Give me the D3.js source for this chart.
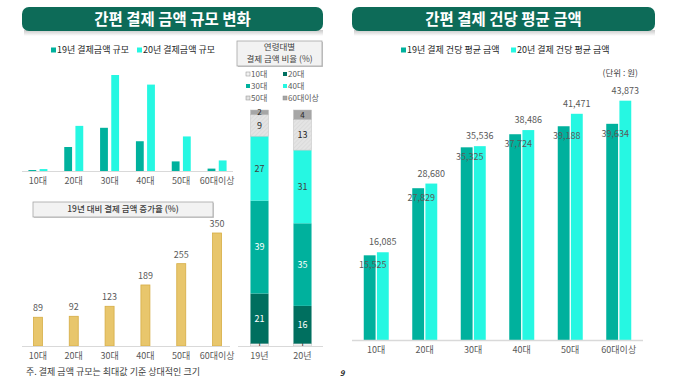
<!DOCTYPE html>
<html><head><meta charset="utf-8">
<script src="https://cdn.jsdelivr.net/npm/d3@7"></script>
<style>html,body{margin:0;padding:0;background:#fff;}svg{display:block;font-family:"Noto Sans CJK KR","Noto Sans",sans-serif;}</style>
</head><body>
<svg id="c" width="680" height="380"></svg>
<script>
// ---- data ----
const ageCats = ["10대","20대","30대","40대","50대","60대이상"];
const sizeSeries = ["19년 결제금액 규모","20년 결제금액 규모"];
const size19 = [1, 25, 45, 31, 10, 2.5];      // relative (max = 100)
const size20 = [2, 47, 100, 90, 36, 11];
const growthRate = [89, 92, 123, 189, 255, 350];
const shareYears = ["19년","20년"];
const shareCats = ["10대","20대","30대","40대","50대","60대이상"];
const share19 = [1, 21, 39, 27, 9, 2];
const share20 = [1, 16, 35, 31, 13, 4];
const avgSeries = ["19년 결제 건당 평균 금액","20년 결제 건당 평균 금액"];
const avg19 = [15525, 27829, 35325, 37724, 39188, 39634];
const avg20 = [16085, 28680, 35536, 38486, 41471, 43873];

const C19 = "#00b19d", C20 = "#26f7e2", GOLD = "#e8c66c", BANNER = "#0d6b58";
const TXT = "#595959";
const svg = d3.select("#c");
const defs = svg.append("defs");
const sh = defs.append("linearGradient").attr("id","sh").attr("x1",0).attr("x2",0).attr("y1",0).attr("y2",1);
sh.append("stop").attr("offset",0).attr("stop-color","#c8c8c8");
sh.append("stop").attr("offset",1).attr("stop-color","#ffffff");
const pat = defs.append("pattern").attr("id","hatch").attr("width",3).attr("height",3)
  .attr("patternUnits","userSpaceOnUse").attr("patternTransform","rotate(45)");
pat.append("rect").attr("width",3).attr("height",3).attr("fill","#e4e4e4");
pat.append("line").attr("x1",0).attr("y1",0).attr("x2",0).attr("y2",3).attr("stroke","#d2d2d2").attr("stroke-width",1);

// banners
function banner(x0, x1, title){
  svg.append("rect").attr("x",x0+2).attr("y",30).attr("width",x1-x0-2).attr("height",6).attr("fill","url(#sh)");
  svg.append("rect").attr("x",x0).attr("y",7).attr("width",x1-x0).attr("height",24).attr("rx",7).attr("fill",BANNER);
  svg.append("text").attr("x",(x0+x1)/2).attr("y",19).attr("dy","0.36em").attr("text-anchor","middle")
    .attr("fill","#fff").attr("font-size",15.5).attr("font-weight",700).text(title);
}
banner(22, 323, "간편 결제 금액 규모 변화");
banner(352, 655, "간편 결제 건당 평균 금액");

function hline(x0,x1,y,w){svg.append("line").attr("x1",x0).attr("x2",x1).attr("y1",y).attr("y2",y).attr("stroke","#d9d9d9").attr("stroke-width",w||1);}

// ---- top-left grouped bars ----
const xL = d3.scaleBand().domain(ageCats).range([20,235]);
const xL1 = d3.scaleBand().domain(sizeSeries).range([0,19]).paddingInner(0.3);
const yL = d3.scaleLinear().domain([0,100]).range([171,75]);
const sizeData = ageCats.map((c,i)=>({c, v:[size19[i], size20[i]]}));
const gL = svg.append("g");
sizeData.forEach(d=>{
  const gx = xL(d.c) + xL.bandwidth()/2 - 9.5;
  sizeSeries.forEach((s,j)=>{
    gL.append("rect").attr("x",gx+xL1(s)).attr("width",xL1.bandwidth())
      .attr("y",yL(d.v[j])).attr("height",yL(0)-yL(d.v[j])).attr("fill",j?C20:C19);
  });
});
hline(22,233,171.5);
gL.selectAll("text.cat").data(ageCats).join("text").attr("x",d=>xL(d)+xL.bandwidth()/2).attr("y",181)
  .attr("dy","0.35em").attr("text-anchor","middle").attr("font-size",9).attr("fill",TXT).text(d=>d);
// legend
[[51,0],[137,1]].forEach(([x,j])=>{
  svg.append("rect").attr("x",x).attr("y",47.5).attr("width",5).attr("height",5).attr("fill",j?C20:C19);
  svg.append("text").attr("x",x+6).attr("y",50).attr("dy","0.35em").attr("font-size",9).attr("fill","#262626").text(sizeSeries[j]);
});

// ---- bottom-left growth bars ----
svg.append("rect").attr("x",34).attr("y",203).attr("width",180).attr("height",15).attr("fill","#d0d0d0");
svg.append("rect").attr("x",33).attr("y",202).attr("width",180).attr("height",15).attr("fill","#f2f2f2").attr("stroke","#a6a6a6").attr("stroke-width",0.8);
svg.append("text").attr("x",123).attr("y",209.5).attr("dy","0.35em").attr("text-anchor","middle").attr("font-size",8.5)
  .attr("font-weight",500).attr("fill","#404040").text("19년 대비 결제 금액 증가율 (%)");
const yG = d3.scaleLinear().domain([0,350]).range([346,233]);
const gG = svg.append("g");
gG.selectAll("rect").data(growthRate).join("rect")
  .attr("x",(d,i)=>xL(ageCats[i])+xL.bandwidth()/2-4.5).attr("width",9)
  .attr("y",d=>yG(d)).attr("height",d=>yG(0)-yG(d)).attr("fill",GOLD).attr("stroke","#d6ad45").attr("stroke-width",0.8);
gG.selectAll("text.v").data(growthRate).join("text")
  .attr("x",(d,i)=>xL(ageCats[i])+xL.bandwidth()/2).attr("y",d=>yG(d)-9).attr("dy","0.35em")
  .attr("text-anchor","middle").attr("font-size",9).attr("fill",TXT).text(d=>d);
hline(22,230,346.5);
gG.selectAll("text.cat").data(ageCats).join("text").attr("x",d=>xL(d)+xL.bandwidth()/2).attr("y",355.5)
  .attr("dy","0.35em").attr("text-anchor","middle").attr("font-size",9).attr("fill",TXT).text(d=>d);
svg.append("text").attr("x",26).attr("y",372).attr("dy","0.35em").attr("font-size",9).attr("fill","#404040")
  .text("주. 결제 금액 규모는 최대값 기준 상대적인 크기");

// ---- stacked share bars ----
const shareColors = ["#f2f2f2","#006f5f","#00b19d","#26f7e2","url(#hatch)","#a6a6a6"];
const shareText = ["#262626","#ffffff","#ffffff","#404040","#262626","#262626"];
const shareRows = shareYears.map((y,i)=>{const o={year:y}; shareCats.forEach((c,k)=>o[c]=(i?share20:share19)[k]); return o;});
const stack = d3.stack().keys(shareCats).offset(d3.stackOffsetExpand)(shareRows);
const xS = d3.scaleBand().domain(shareYears).range([238,324]).paddingInner(0.58).paddingOuter(0.29);
const yS = d3.scaleLinear().domain([0,1]).range([346,110]);
const gS = svg.append("g");
stack.forEach((layer,k)=>{
  layer.forEach(seg=>{
    gS.append("rect").attr("x",xS(seg.data.year)).attr("width",xS.bandwidth())
      .attr("y",yS(seg[1])).attr("height",yS(seg[0])-yS(seg[1])).attr("fill",shareColors[k])
      .attr("stroke", k===0||k===4||k===5 ? "#bfbfbf" : "none").attr("stroke-width",0.5);
    gS.append("text").attr("x",xS(seg.data.year)+xS.bandwidth()/2)
      .attr("y",k===0 ? yS(seg[0])-2 : (yS(seg[0])+yS(seg[1]))/2).attr("dy","0.35em")
      .attr("text-anchor","middle").attr("font-size",k===0||k===5?8:9).attr("fill",shareText[k])
      .text(seg.data[layer.key]);
  });
});
hline(238,323,346.5);
gS.selectAll("text.cat").data(shareYears).join("text").attr("x",d=>xS(d)+xS.bandwidth()/2).attr("y",356)
  .attr("dy","0.35em").attr("text-anchor","middle").attr("font-size",9).attr("fill",TXT).text(d=>d);
// stack legend
svg.append("rect").attr("x",238).attr("y",42).attr("width",85).attr("height",25).attr("fill","#c8c8c8");
svg.append("rect").attr("x",237).attr("y",41).attr("width",85).attr("height",25).attr("fill","#f2f2f2").attr("stroke","#a6a6a6").attr("stroke-width",0.8);
svg.append("text").attr("x",279.5).attr("y",47.5).attr("dy","0.35em").attr("text-anchor","middle").attr("font-size",8.5).attr("fill","#404040").text("연령대별");
svg.append("text").attr("x",279.5).attr("y",59.5).attr("dy","0.35em").attr("text-anchor","middle").attr("font-size",8.5).attr("fill","#404040").text("결제 금액 비율 (%)");
shareCats.forEach((c,k)=>{
  const lx = k%2 ? 283 : 246, ly = 74 + Math.floor(k/2)*12;
  svg.append("rect").attr("x",lx).attr("y",ly-2).attr("width",4).attr("height",4).attr("fill",shareColors[k])
    .attr("stroke", k===0||k===4||k===5 ? "#8c8c8c" : "none").attr("stroke-width",0.5);
  svg.append("text").attr("x",lx+5).attr("y",ly).attr("dy","0.35em").attr("font-size",8).attr("fill","#595959").text(c);
});

// ---- right chart ----
const xR = d3.scaleBand().domain(ageCats).range([352,643]);
const xR1 = d3.scaleBand().domain(avgSeries).range([0,25]).paddingInner(0.1);
const yR = d3.scaleLinear().domain([0,44000]).range([340,100]);
const gR = svg.append("g");
const fmt = d3.format(",");
ageCats.forEach((c,i)=>{
  const gx = xR(c) + xR.bandwidth()/2 - 12.5;
  [avg19[i], avg20[i]].forEach((v,j)=>{
    gR.append("rect").attr("x",gx+xR1(avgSeries[j])).attr("width",xR1.bandwidth())
      .attr("y",yR(v)).attr("height",yR(0)-yR(v)).attr("fill",j?C20:C19);
  });
});
ageCats.forEach((c,i)=>{
  const gx = xR(c) + xR.bandwidth()/2 - 12.5;
  const cx0 = gx + xR1(avgSeries[0]) + xR1.bandwidth()/2 + 3;
  const cx1 = gx + xR1(avgSeries[1]) + xR1.bandwidth()/2;
  gR.append("text").attr("x",cx0).attr("y",yR(avg19[i])+10).attr("dy","0.35em").attr("text-anchor","middle")
    .attr("font-size",9).attr("fill",TXT).text(fmt(avg19[i]));
  gR.append("text").attr("x",cx1).attr("y",yR(avg20[i])-10).attr("dy","0.35em").attr("text-anchor","middle")
    .attr("font-size",9).attr("fill",TXT).text(fmt(avg20[i]));
});
hline(352,643,340.5,1.5);
gR.selectAll("text.cat").data(ageCats).join("text").attr("x",d=>xR(d)+xR.bandwidth()/2).attr("y",350)
  .attr("dy","0.35em").attr("text-anchor","middle").attr("font-size",9).attr("fill",TXT).text(d=>d);
[[401,0],[511,1]].forEach(([x,j])=>{
  svg.append("rect").attr("x",x).attr("y",47.5).attr("width",5).attr("height",5).attr("fill",j?C20:C19);
  svg.append("text").attr("x",x+6).attr("y",50).attr("dy","0.35em").attr("font-size",9).attr("fill","#262626").text(avgSeries[j]);
});
svg.append("text").attr("x",638).attr("y",73).attr("dy","0.35em").attr("text-anchor","end").attr("font-size",8.5).attr("fill","#404040").text("(단위 : 원)");
svg.append("text").attr("x",342).attr("y",373).attr("dy","0.35em").attr("text-anchor","middle").attr("font-size",8).attr("font-weight",700).attr("font-style","italic").attr("fill","#262626").text("9");
</script>
</body></html>
